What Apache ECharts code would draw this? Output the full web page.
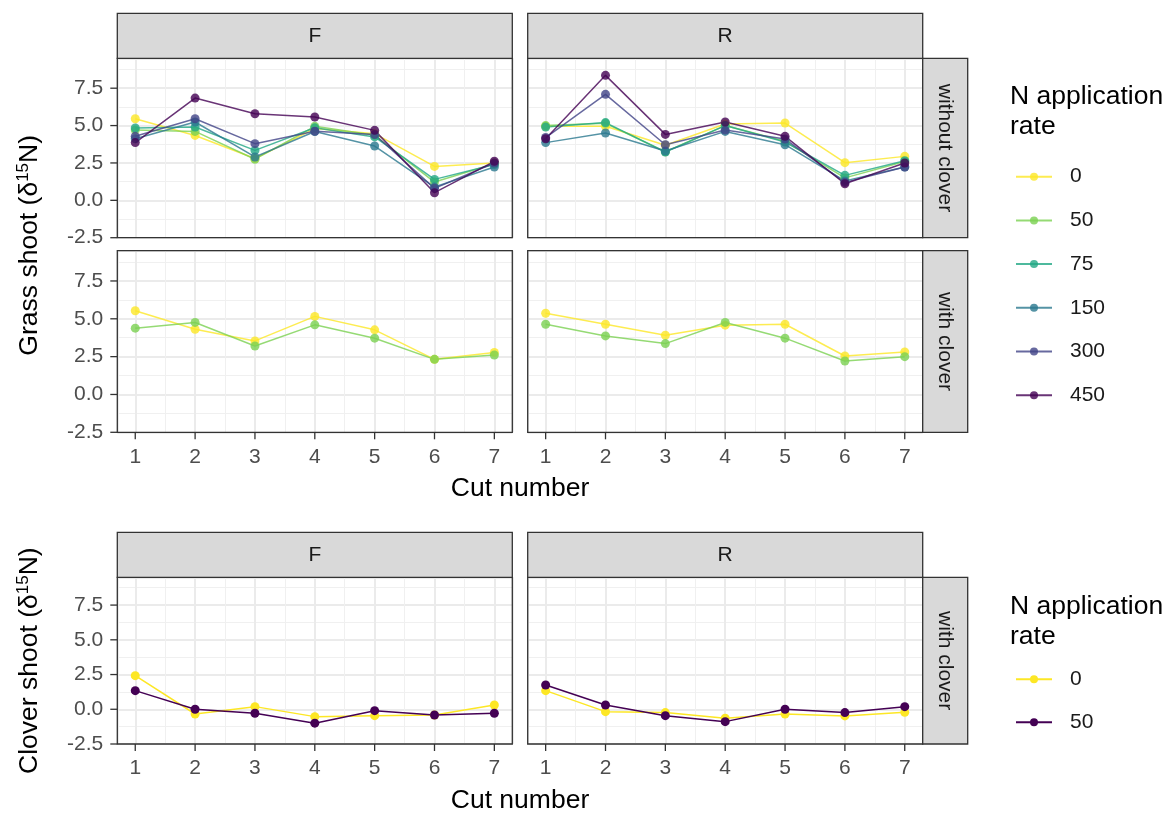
<!DOCTYPE html>
<html>
<head>
<meta charset="utf-8">
<script src="https://cdn.jsdelivr.net/npm/echarts@6/dist/echarts.min.js"></script>
<style>
html,body{margin:0;padding:0;background:#fff;}
#chart{width:1174px;height:814px;}
</style>
</head>
<body>
<div id="chart"></div>
<script>
// ---------------- data ----------------
const cuts = [1, 2, 3, 4, 5, 6, 7];
const yTicks = [-2.5, 0, 2.5, 5, 7.5];
const facets = ['F', 'R'];
const rowLabels = ['without clover', 'with clover', 'with clover'];

const rates = ['0', '50', '75', '150', '300', '450'];
const rateColors = ['#FDE725', '#7AD151', '#22A884', '#2A788E', '#414487', '#440154'];
const cloverRates = ['0', '50'];
const cloverColors = ['#FDE725', '#440154'];

// Grass shoot, without clover, F
const grassWithoutF_0   = [5.46, 4.34, 2.80, 4.80, 4.46, 2.27, 2.50];
const grassWithoutF_50  = [4.70, 4.61, 2.75, 4.95, 4.35, 1.22, 2.45];
const grassWithoutF_75  = [4.84, 4.90, 3.34, 4.85, 4.24, 1.40, 2.40];
const grassWithoutF_150 = [4.12, 5.24, 2.90, 4.60, 3.63, 0.89, 2.23];
const grassWithoutF_300 = [4.28, 5.46, 3.79, 4.62, 4.40, 0.80, 2.50];
const grassWithoutF_450 = [3.86, 6.84, 5.79, 5.57, 4.68, 0.51, 2.61];
// Grass shoot, without clover, R
const grassWithoutR_0   = [4.95, 4.95, 3.68, 5.10, 5.17, 2.52, 2.94];
const grassWithoutR_50  = [5.00, 5.15, 3.25, 5.00, 3.95, 1.50, 2.60];
const grassWithoutR_75  = [4.90, 5.20, 3.23, 5.00, 3.90, 1.67, 2.65];
const grassWithoutR_150 = [3.86, 4.50, 3.30, 4.61, 3.72, 1.30, 2.23];
const grassWithoutR_300 = [4.20, 7.09, 3.72, 4.70, 4.10, 1.20, 2.23];
const grassWithoutR_450 = [4.12, 8.36, 4.41, 5.24, 4.28, 1.11, 2.50];
// Grass shoot, with clover
const grassWithF_0  = [5.53, 4.31, 3.54, 5.16, 4.27, 2.32, 2.77];
const grassWithF_50 = [4.38, 4.76, 3.20, 4.60, 3.72, 2.32, 2.61];
const grassWithR_0  = [5.37, 4.64, 3.91, 4.58, 4.64, 2.54, 2.81];
const grassWithR_50 = [4.64, 3.87, 3.36, 4.76, 3.72, 2.21, 2.50];
// Clover shoot, with clover
const cloverF_0  = [2.42, -0.34, 0.19, -0.53, -0.46, -0.41, 0.31];
const cloverF_50 = [1.34, 0.00, -0.29, -1.00, -0.10, -0.41, -0.29];
const cloverR_0  = [1.34, -0.17, -0.24, -0.65, -0.34, -0.48, -0.22];
const cloverR_50 = [1.75, 0.31, -0.46, -0.89, 0.00, -0.24, 0.19];

// ---------------- layout ----------------
const FONT = '"Liberation Sans", Arial, sans-serif';
const PX = [117.3, 527.7];
const PW = 395;
const ROWS = [{top: 58.3, h: 179.4}, {top: 250.7, h: 181.6}, {top: 577.3, h: 166.7}];
const STRIP = 45;
const TICK_LEN = 7;
const DARK = '#333333';
const X_MIN = 0.7, X_MAX = 7.3, Y_MIN = -2.5, Y_MAX = 9.5;
const xStep = cuts[1] - cuts[0];
const yStep = yTicks[1] - yTicks[0];

const grids = [], xAxes = [], yAxes = [], series = [], graphics = [];
const tickGrids = [], tickX = [], tickY = [];

for (let r = 0; r < 3; r++) {
  for (let c = 0; c < 2; c++) {
    const g = r * 2 + c;
    const top = ROWS[r].top, h = ROWS[r].h;
    grids.push({left: PX[c], top: top, width: PW, height: h, show: false, containLabel: false});
    const showX = r > 0;
    const showY = c === 0;
    // minor grid lines
    xAxes.push({type: 'value', gridIndex: g, position: 'bottom', min: X_MIN, max: X_MAX, splitNumber: 13,
      axisLine: {show: false, onZero: false}, axisTick: {show: false}, axisLabel: {show: false},
      splitLine: {show: true, lineStyle: {color: '#F0F0F0', width: 1}}});
    // data axis (major grid lines)
    xAxes.push({type: 'value', gridIndex: g, position: 'bottom', min: X_MIN, max: X_MAX, splitNumber: 6,
      axisLine: {show: false, onZero: false}, axisTick: {show: false}, axisLabel: {show: false},
      splitLine: {show: true, lineStyle: {color: '#EBEBEB', width: 2}}});
    yAxes.push({type: 'value', gridIndex: g, position: 'left', min: Y_MIN, max: Y_MAX, interval: yStep / 2,
      axisLine: {show: false, onZero: false}, axisTick: {show: false}, axisLabel: {show: false},
      splitLine: {show: true, lineStyle: {color: '#F0F0F0', width: 1}}});
    yAxes.push({type: 'value', gridIndex: g, position: 'left', min: Y_MIN, max: Y_MAX, interval: yStep,
      axisLine: {show: false, onZero: false}, axisTick: {show: false}, axisLabel: {show: false},
      splitLine: {show: true, lineStyle: {color: '#EBEBEB', width: 2}}});

    // label grid: spans exactly the break range so labels land only on the breaks
    const ux = PW / (X_MAX - X_MIN), uy = h / (Y_MAX - Y_MIN);
    const xFirst = cuts[0], xLast = cuts[cuts.length - 1];
    const yFirst = yTicks[0], yLast = yTicks[yTicks.length - 1];
    tickGrids.push({left: PX[c] + (xFirst - X_MIN) * ux, width: (xLast - xFirst) * ux,
      top: top + (Y_MAX - yLast) * uy, height: (yLast - yFirst) * uy, show: false, containLabel: false});
    const tg = 6 + g;
    tickX.push({type: 'value', gridIndex: tg, position: 'bottom', offset: (yFirst - Y_MIN) * uy,
      min: xFirst, max: xLast, interval: xStep,
      axisLine: {show: false, onZero: false},
      axisTick: {show: false},
      axisLabel: {show: showX, margin: 14, fontSize: 21, color: '#4D4D4D', fontFamily: FONT, formatter: v => String(v)},
      splitLine: {show: false}});
    tickY.push({type: 'value', gridIndex: tg, position: 'left', offset: (xFirst - X_MIN) * ux,
      min: yFirst, max: yLast, interval: yStep,
      axisLine: {show: false, onZero: false},
      axisTick: {show: false},
      axisLabel: {show: showY, margin: 14, fontSize: 21, color: '#4D4D4D', fontFamily: FONT, formatter: v => v.toFixed(1)},
      splitLine: {show: false}});

    // panel border
    graphics.push({type: 'rect', z: 100, shape: {x: PX[c], y: top, width: PW, height: h},
      style: {fill: 'none', stroke: DARK, lineWidth: 1.3}});
    // top strips (row 0 and bottom plot)
    if (r === 0 || r === 2) {
      const sy = top - STRIP;
      graphics.push({type: 'rect', z: 100, shape: {x: PX[c], y: sy, width: PW, height: STRIP},
        style: {fill: '#D9D9D9', stroke: DARK, lineWidth: 1.3}});
      graphics.push({type: 'text', z: 101, x: PX[c] + PW / 2, y: sy + STRIP / 2,
        style: {text: facets[c], fontSize: 21, fontFamily: FONT, fill: '#1A1A1A', align: 'center', verticalAlign: 'middle'}});
    }
    // right strips
    if (c === 1) {
      const sx = PX[1] + PW;
      graphics.push({type: 'rect', z: 100, shape: {x: sx, y: top, width: STRIP, height: h},
        style: {fill: '#D9D9D9', stroke: DARK, lineWidth: 1.3}});
      graphics.push({type: 'text', z: 101, x: sx + STRIP / 2, y: top + h / 2, rotation: -Math.PI / 2,
        style: {text: rowLabels[r], fontSize: 21, fontFamily: FONT, fill: '#1A1A1A', align: 'center', verticalAlign: 'middle'}});
    }
  }
}

function mk(name, color, vals, g, opacity) {
  return {
    type: 'line', name: name, xAxisIndex: 2 * g + 1, yAxisIndex: 2 * g + 1,
    data: cuts.map((c, i) => [c, vals[i]]),
    symbol: 'circle', symbolSize: 9, showAllSymbol: true,
    lineStyle: {width: 1.5, color: color, opacity: opacity},
    itemStyle: {color: color, opacity: opacity},
    emphasis: {disabled: true}, animation: false, silent: true
  };
}

const withoutF = [grassWithoutF_0, grassWithoutF_50, grassWithoutF_75, grassWithoutF_150, grassWithoutF_300, grassWithoutF_450];
const withoutR = [grassWithoutR_0, grassWithoutR_50, grassWithoutR_75, grassWithoutR_150, grassWithoutR_300, grassWithoutR_450];
rates.forEach((rt, i) => series.push(mk(rt, rateColors[i], withoutF[i], 0, 0.8)));
rates.forEach((rt, i) => series.push(mk(rt, rateColors[i], withoutR[i], 1, 0.8)));
const withF = [grassWithF_0, grassWithF_50];
const withR = [grassWithR_0, grassWithR_50];
[0, 1].forEach(i => series.push(mk(rates[i], rateColors[i], withF[i], 2, 0.8)));
[0, 1].forEach(i => series.push(mk(rates[i], rateColors[i], withR[i], 3, 0.8)));
const clF = [cloverF_0, cloverF_50];
const clR = [cloverR_0, cloverR_50];
cloverRates.forEach((rt, i) => series.push(mk('c' + rt, cloverColors[i], clF[i], 4, 1)));
cloverRates.forEach((rt, i) => series.push(mk('c' + rt, cloverColors[i], clR[i], 5, 1)));

// axis titles
const titleStyle = {fontSize: 26.5, fontFamily: FONT, fill: '#000000'};
[489, 801].forEach(y => graphics.push({type: 'text', z: 101, x: (PX[0] + PX[1] + PW) / 2, y: y,
  style: Object.assign({text: 'Cut number', align: 'center', verticalAlign: 'middle'}, titleStyle)}));
function yTitle(label, cy) {
  return {type: 'text', z: 101, x: 30, y: cy, rotation: Math.PI / 2,
    style: {text: '{a|' + label + ' (δ}{s|15}{a|N)}', align: 'center', verticalAlign: 'middle',
      rich: {a: {fontSize: 26.5, fontFamily: FONT, fill: '#000000', lineHeight: 30},
             s: {fontSize: 17, fontFamily: FONT, fill: '#000000', lineHeight: 18, verticalAlign: 'top'}}}};
}
graphics.push(yTitle('Grass shoot', (ROWS[0].top + ROWS[1].top + ROWS[1].h) / 2));
graphics.push(yTitle('Clover shoot', ROWS[2].top + ROWS[2].h / 2));
// legend titles
[81.7, 591.7].forEach(y => graphics.push({type: 'text', z: 101, x: 1010, y: y,
  style: Object.assign({text: 'N application\nrate', align: 'left', verticalAlign: 'top', lineHeight: 30}, titleStyle)}));

const legendText = {fontSize: 21, color: '#1A1A1A', fontFamily: FONT, lineHeight: 24, padding: [0, 0, 0, 13]};
const option = {
  animation: false,
  backgroundColor: '#ffffff',
  grid: grids.concat(tickGrids), xAxis: xAxes.concat(tickX), yAxis: yAxes.concat(tickY),
  series: series, graphic: graphics,
  legend: [
    {data: rates, orient: 'vertical', left: 1010, top: 159.7, itemWidth: 36, itemHeight: 10, itemGap: 19.7,
      textStyle: legendText, selectedMode: false},
    {data: cloverRates.map(r => 'c' + r), orient: 'vertical', left: 1010, top: 662.3, itemWidth: 36, itemHeight: 10, itemGap: 19,
      textStyle: legendText, selectedMode: false, formatter: n => n.slice(1)}
  ]
};
const chart = echarts.init(document.getElementById('chart'), null, {renderer: 'canvas'});
chart.setOption(option);

// tick marks placed through the library's own axis scales
const tickMarks = [];
for (let r = 0; r < 3; r++) {
  for (let c = 0; c < 2; c++) {
    const g = r * 2 + c;
    const bottom = ROWS[r].top + ROWS[r].h;
    if (r > 0) {
      cuts.forEach(v => {
        const px = chart.convertToPixel({xAxisIndex: 2 * g + 1}, v);
        tickMarks.push({type: 'line', z: 100, shape: {x1: px, y1: bottom, x2: px, y2: bottom + TICK_LEN},
          style: {stroke: DARK, lineWidth: 1.3}});
      });
    }
    if (c === 0) {
      yTicks.forEach(v => {
        const py = chart.convertToPixel({yAxisIndex: 2 * g + 1}, v);
        tickMarks.push({type: 'line', z: 100, shape: {x1: PX[0] - TICK_LEN, y1: py, x2: PX[0], y2: py},
          style: {stroke: DARK, lineWidth: 1.3}});
      });
    }
  }
}
chart.setOption({graphic: graphics.concat(tickMarks)});
</script>
</body>
</html>
